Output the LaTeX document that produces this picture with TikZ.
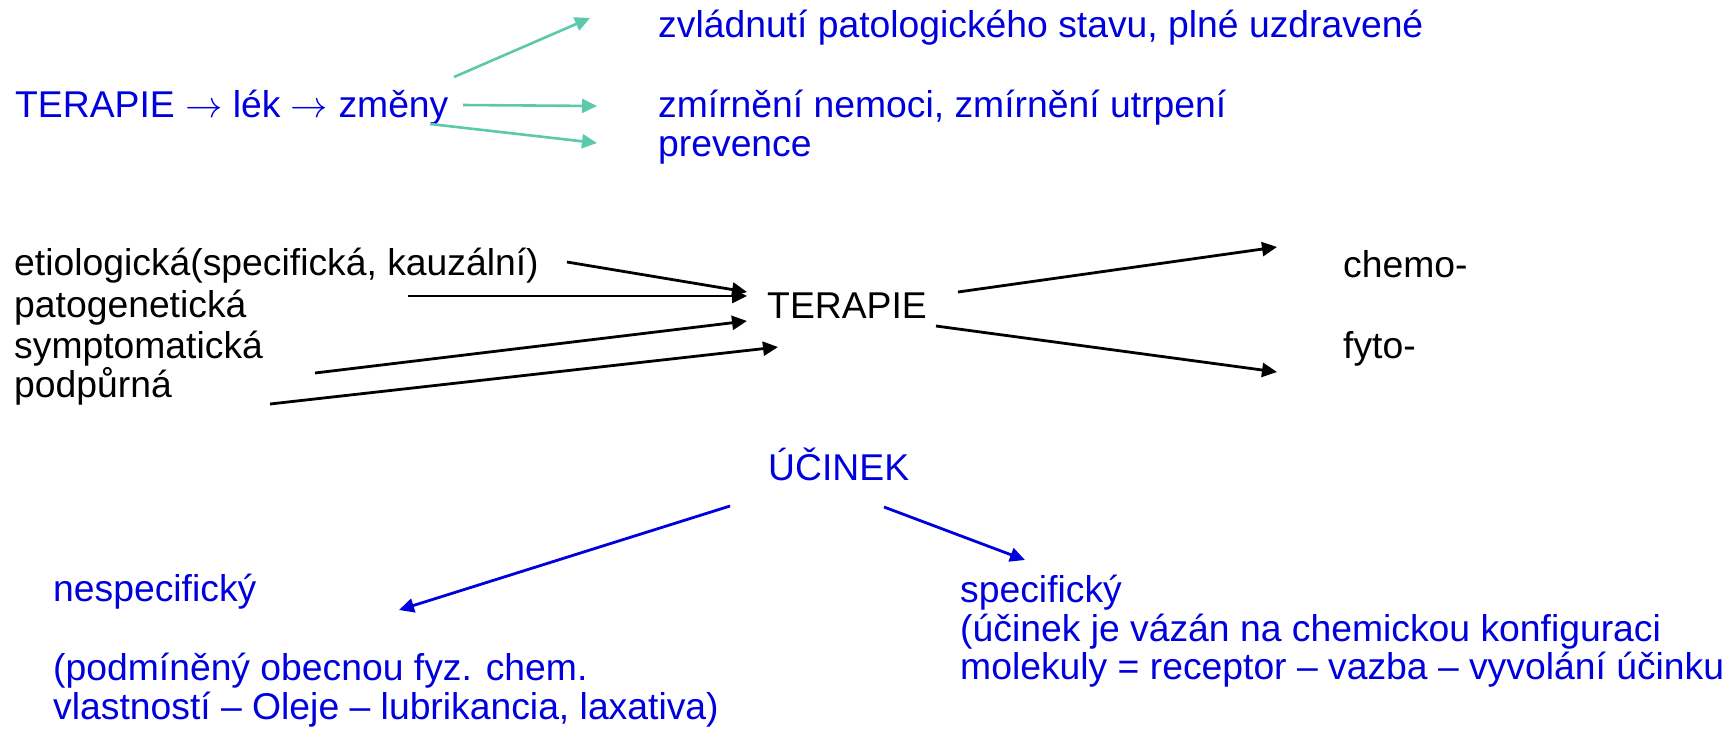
\RequirePackage{fix-cm}
\documentclass[tikz,border=0pt]{standalone}
\usepackage{fontspec}
\setmainfont{Liberation Sans}
\usetikzlibrary{arrows.meta}
\definecolor{txtblue}{RGB}{0,0,222}
\definecolor{tealarrow}{RGB}{92,200,172}
\begin{document}
\begin{tikzpicture}[x=1pt,y=-1pt,
  lbl/.style={anchor=base west, inner sep=0pt, font=\fontsize{37.3}{41}\selectfont},
  bluelbl/.style={lbl, text=txtblue},
  conn/.style={line width=2.8pt, -{Triangle[length=15pt,width=14pt]}},
  tealconn/.style={conn, line width=2.6pt, draw=tealarrow, fill=tealarrow},
  blueconn/.style={conn, draw=txtblue, fill=txtblue},
  blackconn/.style={conn, draw=black, fill=black}
]
\useasboundingbox[fill=white] (0,0) rectangle (1729,729);

% therapy chain and its outcomes
\node[bluelbl] (chain)  at (15,117)  {TERAPIE $\rightarrow$ lék $\rightarrow$ změny};
\node[bluelbl] (cure)   at (658,37)  {zvládnutí patologického stavu, plné uzdravené};
\node[bluelbl] (relief) at (658,117) {zmírnění nemoci, zmírnění utrpení};
\node[bluelbl] (prev)   at (658,156) {prevence};

\coordinate (c1s) at (454,77);  \coordinate (c1e) at (590,18);
\coordinate (c2s) at (463,105); \coordinate (c2e) at (597,106);
\coordinate (c3s) at (430,124); \coordinate (c3e) at (597,143);
\draw[tealconn] (c1s) -- (c1e);
\draw[tealconn] (c2s) -- (c2e);
\draw[tealconn] (c3s) -- (c3e);

% kinds of therapy
\node[lbl] (etio)  at (14,275)  {etiologická(specifická, kauzální)};
\node[lbl] (pato)  at (14,317)  {patogenetická};
\node[lbl] (symp)  at (14,358)  {symptomatická};
\node[lbl] (podp)  at (14,397)  {podpůrná};
\node[lbl] (ter)   at (767,318) {TERAPIE};
\node[lbl] (chemo) at (1343,277) {chemo-};
\node[lbl] (fyto)  at (1343,358) {fyto-};

\coordinate (e1s) at (567,262); \coordinate (e1e) at (747,292);
\coordinate (e2s) at (408,296); \coordinate (e2e) at (747,296);
\coordinate (e3s) at (315,373); \coordinate (e3e) at (747,321);
\coordinate (e4s) at (270,404); \coordinate (e4e) at (778,347);
\coordinate (o1s) at (958,292); \coordinate (o1e) at (1277,247);
\coordinate (o2s) at (936,326); \coordinate (o2e) at (1277,372);
\draw[blackconn] (e1s) -- (e1e);
\draw[blackconn] (e2s) -- (e2e);
\draw[blackconn] (e3s) -- (e3e);
\draw[blackconn] (e4s) -- (e4e);
\draw[blackconn] (o1s) -- (o1e);
\draw[blackconn] (o2s) -- (o2e);

% kinds of effect
\node[bluelbl] (ucinek) at (768,480) {ÚČINEK};
\node[bluelbl] (nesp)   at (53,601)  {nespecifický};
\node[bluelbl] (nesp2)  at (53,680)  {(podmíněný obecnou fyz. chem.};
\node[bluelbl] (nesp3)  at (53,719)  {vlastností – Oleje – lubrikancia, laxativa)};
\node[bluelbl] (spec)   at (960,602) {specifický};
\node[bluelbl] (spec2)  at (960,641) {(účinek je vázán na chemickou konfiguraci};
\node[bluelbl] (spec3)  at (960,679) {molekuly = receptor – vazba – vyvolání účinku};

\coordinate (u1s) at (730,506); \coordinate (u1e) at (399,610);
\coordinate (u2s) at (884,507); \coordinate (u2e) at (1025,560);
\draw[blueconn] (u1s) -- (u1e);
\draw[blueconn] (u2s) -- (u2e);
\end{tikzpicture}
\end{document}
